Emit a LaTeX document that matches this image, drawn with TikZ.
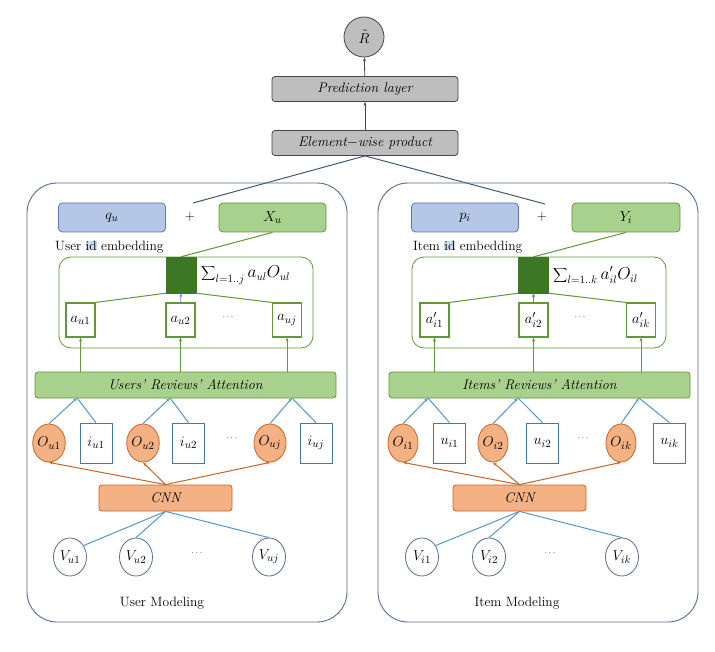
\documentclass[tikz,border=0pt]{standalone}
\usetikzlibrary{arrows.meta,shapes.geometric,calc}
\definecolor{gfill}{RGB}{169,209,142}
\definecolor{gdraw}{RGB}{100,150,60}
\definecolor{dgreen}{RGB}{60,120,35}
\definecolor{bfill}{RGB}{180,199,231}
\definecolor{bdraw}{RGB}{90,120,180}
\definecolor{ofill}{RGB}{244,177,131}
\definecolor{odraw}{RGB}{200,100,40}
\definecolor{grfill}{RGB}{190,190,190}
\definecolor{grdraw}{RGB}{70,70,70}
\definecolor{frame}{RGB}{85,110,145}
\definecolor{lblue}{RGB}{90,150,200}
\definecolor{hl}{RGB}{200,220,240}
\begin{document}
\begin{tikzpicture}[x=1pt,y=-1pt,
  every node/.style={font=\fontsize{13.5}{15}\selectfont, inner sep=0pt},
  graybox/.style={draw=grdraw, fill=grfill, rounded corners=3pt, line width=0.8pt, minimum width=186pt, minimum height=25pt, font=\fontsize{14}{16}\selectfont\itshape},
  bluebox/.style={draw=bdraw, fill=bfill, rounded corners=4pt, line width=0.8pt, minimum width=107pt, minimum height=29pt, font=\fontsize{15}{17}\selectfont},
  greenbox/.style={draw=gdraw, fill=gfill, rounded corners=4pt, line width=0.8pt, minimum height=29pt, font=\fontsize{15}{17}\selectfont},
  attbar/.style={draw=gdraw, fill=gfill, rounded corners=3pt, line width=0.8pt, minimum width=301pt, minimum height=26pt, font=\fontsize{14}{16}\selectfont\itshape},
  sqbox/.style={draw=dgreen, fill=dgreen, minimum width=30pt, minimum height=36pt},
  abox/.style={draw=gdraw, fill=white, line width=1.1pt, minimum width=29pt, minimum height=34pt, font=\fontsize{15}{17}\selectfont},
  obox/.style={draw=odraw, fill=ofill, ellipse, line width=0.8pt, minimum width=30pt, minimum height=38pt, font=\fontsize{15}{17}\selectfont},
  ibox/.style={draw=lblue!80!black, fill=white, line width=0.8pt, minimum width=32pt, minimum height=40pt, font=\fontsize{15}{17}\selectfont},
  cnnbar/.style={draw=odraw, fill=ofill, rounded corners=3pt, line width=0.8pt, minimum width=133pt, minimum height=26pt, font=\fontsize{14}{16}\selectfont\itshape},
  vnode/.style={draw=frame, fill=white, ellipse, line width=0.8pt, minimum width=33pt, minimum height=38pt, font=\fontsize{15}{17}\selectfont},
  outer/.style={draw=frame, line width=0.9pt, rounded corners=30pt},
  inner/.style={draw=gdraw, line width=0.8pt, rounded corners=12pt},
  gline/.style={draw=gdraw, line width=1pt},
  garrow/.style={draw=gdraw, line width=0.8pt, -{Stealth[length=4pt,width=3pt]}},
  barrow/.style={draw=lblue, line width=1pt, -{Stealth[length=4pt,width=3pt]}},
  bline/.style={draw=lblue, line width=1pt},
  oarrow/.style={draw=odraw, line width=1pt, -{Stealth[length=4pt,width=3pt]}},
  karrow/.style={draw=grdraw, line width=0.8pt, -{Stealth[length=4pt,width=3pt]}},
  kline/.style={draw=frame!80!black, line width=1pt},
  dots/.style={font=\small}
]
\fill[white] (0,0) rectangle (715,652);
\useasboundingbox (0,0) rectangle (715,652);

% top
\node[circle, draw=grdraw, fill=grfill, line width=0.8pt, minimum size=40pt, font=\fontsize{14}{16}\selectfont] (R) at (364,37) {$\tilde{R}$};
\node[graybox] (pred) at (365,89) {Prediction layer};
\node[graybox] (elem) at (365,143) {\textit{Element}$-$\textit{wise product}};
\draw[karrow] (pred) -- (R);
\draw[karrow] (elem) -- (pred);
\coordinate (pl) at (193,203);
\coordinate (pr) at (545,204);
\draw[kline] (elem.south) -- (pl);
\draw[kline] (elem.south) -- (pr);

% ---------- left ----------
\draw[outer] (27,183) rectangle (347,622);
\node[bluebox] (q) at (112,217.5) {$q_u$};
\node (plusL) at (190,217) {+};
\node[greenbox, minimum width=107pt] (X) at (272.5,217.5) {$X_u$};
\node[anchor=west] (ulab) at (55,247) {User {\setlength{\fboxsep}{0pt}\colorbox{hl}{id}} embedding};
\draw[inner] (59,257) rectangle (313,348);
\node[sqbox] (sqL) at (181,275) {};
\node[anchor=west] (sumL) at (201,275) {\fontsize{16}{18}\selectfont$\displaystyle\sum\nolimits_{l=1..j} a_{ul} O_{ul}$};
\node[abox] (a1) at (80.5,320) {$a_{u1}$};
\node[abox] (a2) at (180.5,320) {$a_{u2}$};
\node[abox] (aj) at (287,320) {$a_{uj}$};
\node[dots] (d1) at (228,317) {$\cdots$};
\draw[gline] (sqL.north) -- (X.south);
\draw[gline] (sqL.south west) -- (a1.north east);
\draw[gline] (sqL.south east) -- (aj.north west);
\draw[barrow, line width=0.6pt] (a2.north) -- (sqL.south);
\node[attbar] (attL) at (185.5,385) {Users' Reviews' Attention};
\draw[garrow] (a1.south |- attL.north) -- (a1.south);
\draw[garrow] (a2.south |- attL.north) -- (a2.south);
\draw[garrow] (aj.south |- attL.north) -- (aj.south);
\node[obox] (ou1) at (49,443) {$O_{u1}$};
\node[ibox] (iu1) at (96,443) {$i_{u1}$};
\node[obox] (ou2) at (143,443) {$O_{u2}$};
\node[ibox] (iu2) at (188.5,443) {$i_{u2}$};
\node[dots] (d2) at (232,438) {$\cdots$};
\node[obox] (ouj) at (270,443) {$O_{uj}$};
\node[ibox] (iuj) at (316,443) {$i_{uj}$};
\coordinate (jl1) at (77,398);
\coordinate (jl2) at (170,398);
\coordinate (jl3) at (292,398);
\draw[barrow] (ou1.north) -- (jl1);
\draw[bline] (iu1.north) -- (jl1);
\draw[barrow] (ou2.north) -- (jl2);
\draw[bline] (iu2.north) -- (jl2);
\draw[barrow] (ouj.north) -- (jl3);
\draw[bline] (iuj.north) -- (jl3);
\node[cnnbar] (cnnL) at (165.5,498) {CNN};
\draw[oarrow] (cnnL.north) -- (ou1.south);
\draw[oarrow] (cnnL.north) -- (ou2.south);
\draw[oarrow] (cnnL.north) -- (ouj.south);
\node[vnode] (vu1) at (70,557) {$V_{u1}$};
\node[vnode] (vu2) at (136,557) {$V_{u2}$};
\node[vnode] (vuj) at (269,557) {$V_{uj}$};
\node[dots] (d3) at (197,553) {$\cdots$};
\draw[bline] (cnnL.south) -- (vu1.40);
\draw[bline] (cnnL.south) -- (vu2.north);
\draw[bline] (cnnL.south) -- (vuj.north);
\node (umod) at (162,603) {User Modeling};

% ---------- right ----------
\draw[outer] (378,183) rectangle (698,622);
\node[bluebox] (p) at (465,217.5) {$p_i$};
\node (plusR) at (542,217) {+};
\node[greenbox, minimum width=108pt] (Y) at (626,217.5) {$Y_i$};
\node[anchor=west] (ilab) at (413,247) {Item {\setlength{\fboxsep}{0pt}\colorbox{hl}{id}} embedding};
\draw[inner] (412,257) rectangle (666,348);
\node[sqbox] (sqR) at (533.5,275) {};
\node[anchor=west] (sumR) at (553,275) {\fontsize{16}{18}\selectfont$\displaystyle\sum\nolimits_{l=1..k} a'_{il} O_{il}$};
\node[abox] (b1) at (434.5,320) {$a'_{i1}$};
\node[abox] (b2) at (533.5,320) {$a'_{i2}$};
\node[abox] (bk) at (641,320) {$a'_{ik}$};
\node[dots] (d4) at (580,317) {$\cdots$};
\draw[gline] (sqR.north) -- (Y.south);
\draw[gline] (sqR.south west) -- (b1.north east);
\draw[gline] (sqR.south east) -- (bk.north west);
\draw[garrow, line width=0.6pt] (b2.north) -- (sqR.south);
\node[attbar] (attR) at (539.5,385) {Items' Reviews' Attention};
\draw[garrow] (b1.south |- attR.north) -- (b1.south);
\draw[garrow] (b2.south |- attR.north) -- (b2.south);
\draw[garrow] (bk.south |- attR.north) -- (bk.south);
\node[obox] (oi1) at (403,443) {$O_{i1}$};
\node[ibox] (ui1) at (449.5,443) {$u_{i1}$};
\node[obox] (oi2) at (493,443) {$O_{i2}$};
\node[ibox] (ui2) at (542.5,443) {$u_{i2}$};
\node[dots] (d5) at (583,438) {$\cdots$};
\node[obox] (oik) at (621,443) {$O_{ik}$};
\node[ibox] (uik) at (669.5,443) {$u_{ik}$};
\coordinate (jr1) at (428,398);
\coordinate (jr2) at (518,398);
\coordinate (jr3) at (639,398);
\draw[barrow] (oi1.north) -- (jr1);
\draw[bline] (ui1.north) -- (jr1);
\draw[barrow] (oi2.north) -- (jr2);
\draw[bline] (ui2.north) -- (jr2);
\draw[barrow] (oik.north) -- (jr3);
\draw[bline] (uik.north) -- (jr3);
\node[cnnbar] (cnnR) at (519.5,498) {CNN};
\draw[oarrow] (cnnR.north) -- (oi1.south);
\draw[oarrow] (cnnR.north) -- (oi2.south);
\draw[oarrow] (cnnR.north) -- (oik.south);
\node[vnode] (vi1) at (422,557) {$V_{i1}$};
\node[vnode] (vi2) at (489,557) {$V_{i2}$};
\node[vnode] (vik) at (622,557) {$V_{ik}$};
\node[dots] (d6) at (550,553) {$\cdots$};
\draw[bline] (cnnR.south) -- (vi1.40);
\draw[bline] (cnnR.south) -- (vi2.north);
\draw[bline] (cnnR.south) -- (vik.north);
\node (imod) at (517,603) {Item Modeling};
\end{tikzpicture}
\end{document}
